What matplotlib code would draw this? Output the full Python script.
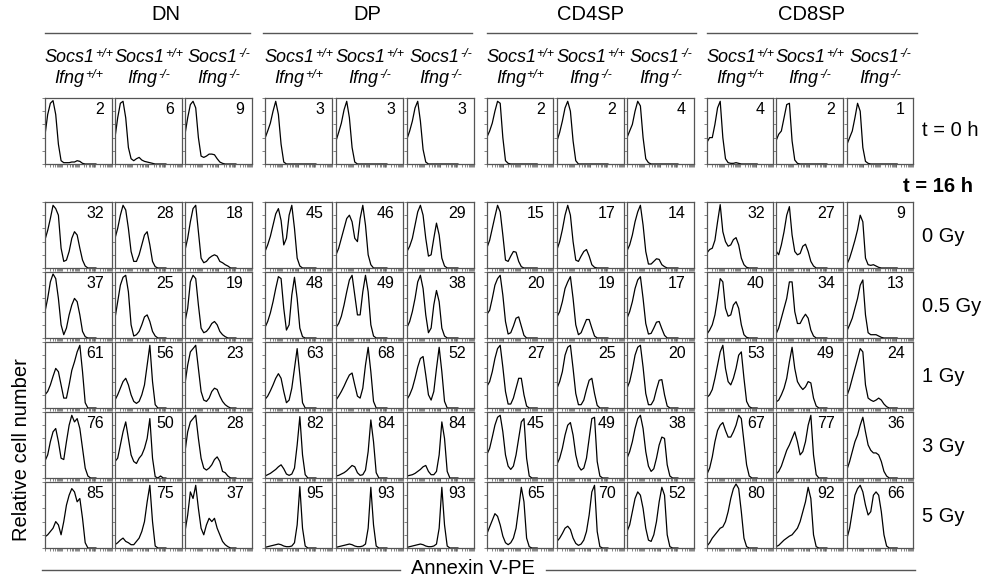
import numpy as np
import matplotlib
matplotlib.use('Agg')
import matplotlib.pyplot as plt
from matplotlib.lines import Line2D

plt.rcParams['font.family'] = ['Liberation Sans', 'DejaVu Sans']

# ---------------- data ----------------
groups = ['DN', 'DP', 'CD4SP', 'CD8SP']
socs_geno = ['+/+', '+/+', '-/-']
ifng_geno = ['+/+', '-/-', '-/-']
conditions = ['t = 0 h', '0 Gy', '0.5 Gy', '1 Gy', '3 Gy', '5 Gy']
channels = np.arange(20) * 0.04          # Annexin V-PE channel (fraction of axis)

pct_DN = [[2, 6, 9], [32, 28, 18], [37, 25, 19], [61, 56, 23], [76, 50, 28], [85, 75, 37]]
pct_DP = [[3, 3, 3], [45, 46, 29], [48, 49, 38], [63, 68, 52], [82, 84, 84], [95, 93, 93]]
pct_CD4 = [[2, 2, 4], [15, 17, 14], [20, 19, 17], [27, 25, 20], [45, 49, 38], [65, 70, 52]]
pct_CD8 = [[4, 2, 1], [32, 27, 9], [40, 34, 13], [53, 49, 24], [67, 77, 36], [80, 92, 66]]

hist_DN = [
    [[44,75,92,96,75,30,5,2,2,2,3,3,5,4,1,0,0,0,0,0],
     [40,70,92,95,70,25,8,5,8,10,6,4,3,2,1,0,0,0,0,0],
     [45,70,90,95,85,40,12,10,12,15,15,14,8,3,1,0,0,0,0,0]],
    [[43,57,75,95,90,80,30,10,12,25,45,55,50,30,12,3,0,0,0,0],
     [45,60,80,95,88,60,25,10,10,20,35,50,55,35,10,2,0,0,0,0],
     [27,45,70,90,95,55,15,8,10,15,18,20,18,10,8,5,3,0,0,0]],
    [[40,60,85,97,90,60,20,5,15,35,50,60,55,35,10,2,0,0,0,0],
     [30,55,80,92,95,70,20,3,5,10,20,32,35,25,10,3,0,0,0,0],
     [25,45,85,95,90,50,15,8,10,15,22,25,20,10,5,2,0,0,0,0]],
    [[20,25,35,48,60,55,35,15,15,35,57,70,85,95,55,8,0,0,0,0],
     [12,20,30,40,45,35,20,10,7,10,20,35,65,95,40,5,0,0,0,0],
     [37,65,85,90,95,60,25,12,10,15,25,30,28,18,10,5,2,0,0,0]],
    [[26,35,55,70,75,55,30,28,55,80,95,85,90,75,45,15,3,0,0,0],
     [25,30,50,70,85,60,35,25,22,30,35,45,60,90,30,2,0,3,0,0],
     [40,70,85,90,95,60,30,15,12,15,20,28,32,25,10,8,3,0,0,0]],
    [[17,20,25,30,40,35,20,40,65,80,90,85,70,75,45,8,0,0,0,0],
     [5,8,12,15,10,8,5,5,10,15,25,40,70,95,40,3,0,0,0,0],
     [25,50,85,75,95,60,30,20,35,45,40,45,30,20,10,5,2,0,0,0]],
]
hist_DP = [
    [[39,50,62,80,95,75,30,3,0,0,0,0,0,0,0,0,0,0,0,0],
     [35,48,62,82,95,70,25,3,0,0,0,0,0,0,0,0,0,0,0,0],
     [38,50,65,85,95,65,22,3,0,0,0,0,0,0,0,0,0,0,0,0]],
    [[25,35,48,65,82,90,72,35,45,80,95,60,15,3,0,0,0,0,0,0],
     [20,30,45,60,75,80,70,45,40,75,95,65,20,5,0,0,0,0,0,0],
     [25,33,45,65,85,95,80,45,18,20,45,68,50,15,3,0,0,0,0,0]],
    [[16,25,38,55,75,93,90,45,12,20,65,92,60,15,2,0,0,0,0,0],
     [16,22,33,50,70,88,95,65,35,35,70,95,70,20,3,0,0,0,0,0],
     [16,25,40,60,85,95,75,35,8,15,50,72,55,15,3,0,0,0,0,0]],
    [[13,18,26,35,45,52,45,25,8,12,30,60,90,50,8,0,0,0,0,0],
     [12,18,25,33,42,50,53,35,18,15,30,65,92,55,10,0,0,0,0,0],
     [13,20,30,45,62,75,78,50,20,12,25,60,92,55,10,0,0,0,0,0]],
    [[3,5,7,10,13,17,20,14,6,4,6,15,50,93,35,5,0,0,0,0],
     [3,4,6,8,11,15,19,17,8,4,5,12,40,88,55,8,0,0,0,0],
     [3,4,5,7,10,13,17,19,10,5,5,10,35,85,60,10,0,0,0,0]],
    [[1,2,3,4,5,6,5,3,2,2,3,8,35,93,30,3,0,0,0,0],
     [1,2,3,4,5,6,5,3,2,2,3,6,30,92,35,3,0,0,0,0],
     [1,2,3,4,5,6,5,3,2,2,3,6,30,92,35,3,0,0,0,0]],
]
hist_CD4 = [
    [[41,50,62,80,95,92,40,5,1,0,0,0,0,0,0,0,0,0,0,0],
     [35,48,65,85,95,80,35,5,0,0,0,0,0,0,0,0,0,0,0,0],
     [40,50,60,80,95,88,40,8,2,0,0,0,0,0,0,0,0,0,0,0]],
    [[31,42,60,78,95,85,50,12,10,18,25,24,10,2,0,0,0,0,0,0],
     [28,40,58,80,95,80,40,12,10,18,25,28,18,5,1,0,0,0,0,0],
     [26,35,50,70,85,95,65,25,6,6,10,14,13,5,2,0,0,0,0,0]],
    [[36,42,60,80,90,95,65,25,6,8,18,30,32,18,4,0,0,0,0,0],
     [32,40,55,75,85,93,60,20,5,8,18,28,28,15,3,0,0,0,0,0],
     [30,40,55,75,88,93,60,22,6,7,15,24,25,14,4,0,0,0,0,0]],
    [[33,40,55,75,90,95,62,25,6,6,15,30,45,45,20,3,0,0,0,0],
     [30,40,55,80,92,95,60,22,5,5,12,28,42,45,22,4,0,0,0,0],
     [30,40,58,80,92,95,62,22,5,5,12,28,42,43,20,3,0,0,0,0]],
    [[36,45,62,80,92,95,70,35,18,13,18,35,60,85,90,30,3,0,0,0],
     [21,30,45,65,80,84,65,35,18,12,15,30,60,90,92,25,3,0,0,0],
     [30,40,55,75,90,95,75,40,18,10,14,30,50,62,60,20,3,0,0,0]],
    [[22,32,42,52,48,35,18,8,5,8,15,30,60,92,70,15,2,0,0,0],
     [10,15,22,30,33,28,15,7,4,6,12,25,50,85,95,25,2,0,0,0],
     [25,35,55,75,85,80,60,30,12,10,20,40,70,92,80,20,2,0,0,0]],
]
hist_CD8 = [
    [[33,40,40,60,85,95,40,8,2,1,1,2,1,0,0,0,0,0,0,0],
     [35,45,50,70,90,92,35,6,1,0,0,0,0,0,0,0,0,0,0,0],
     [30,40,50,70,92,80,25,4,1,0,0,0,0,0,0,0,0,0,0,0]],
    [[23,28,30,42,70,96,55,40,33,35,43,46,35,15,5,1,0,0,0,0],
     [26,20,35,55,80,93,50,25,20,22,33,36,25,10,3,0,0,0,0,0],
     [6,15,28,42,58,80,70,15,5,4,5,3,1,0,0,0,0,0,0,0]],
    [[6,12,20,35,60,90,85,45,33,35,50,55,45,20,5,1,0,0,0,0],
     [6,15,30,45,60,85,85,40,22,22,30,36,30,12,3,0,0,0,0,0],
     [11,20,30,45,60,80,88,35,8,5,5,5,3,1,0,0,0,0,0,0]],
    [[16,20,28,45,65,85,95,60,40,35,45,60,80,85,45,10,2,0,0,0],
     [9,12,20,30,45,70,92,60,40,33,28,32,40,38,15,3,0,0,0,0],
     [19,30,45,60,75,90,85,35,15,12,10,12,15,12,6,2,0,0,0,0]],
    [[6,15,32,55,72,80,84,72,62,62,70,80,95,90,55,20,3,0,0,0],
     [6,10,18,30,42,50,60,70,55,35,40,55,80,95,35,5,0,0,0,0],
     [13,25,40,55,65,80,92,70,50,42,38,38,35,25,10,3,0,0,0,0]],
    [[3,8,15,20,25,30,32,40,55,75,90,97,90,55,15,2,0,0,0,0],
     [2,4,8,12,15,18,20,25,30,40,55,70,92,75,20,2,0,0,0,0],
     [15,30,55,80,90,95,85,65,50,55,80,85,80,55,20,3,0,0,0,0]],
]

pct_all = [pct_DN, pct_DP, pct_CD4, pct_CD8]
hist_all = [hist_DN, hist_DP, hist_CD4, hist_CD8]

# ---------------- layout (pixels) ----------------
W, H = 987, 581
col_lr = [[(45, 112), (115, 182), (185, 252)],
          [(265, 332), (336, 403), (407, 474)],
          [(487, 553), (557, 624), (627, 694)],
          [(707, 773), (776, 843), (847, 913)]]
row_tb = [(98, 164), (202, 268), (272, 338), (342, 408), (412, 478), (482, 548)]
group_line = [(45, 250), (263, 472), (487, 696), (707, 917)]
group_text_x = [166, 367, 591, 812]

fig = plt.figure(figsize=(W / 100, H / 100), dpi=100)
renderer = fig.canvas.get_renderer()


def fx(x):
    return x / W


def fy(y):
    return 1 - y / H


frame_col = '#555555'
xt = np.concatenate([np.log10(np.arange(1, 10) * 10 ** k) / 4 for k in range(4)] + [[1.0]])


def sup_label(cx, base_y, main, sup, size=13, sup_size=9, raise_px=5):
    t1 = fig.text(0, 0, main, fontsize=size, style='italic', va='baseline', ha='left')
    t2 = fig.text(0, 0, sup, fontsize=sup_size, style='italic', va='baseline', ha='left')
    w1 = t1.get_window_extent(renderer).width
    w2 = t2.get_window_extent(renderer).width
    x0 = cx - (w1 + w2) / 2
    t1.set_position((fx(x0), fy(base_y)))
    t2.set_position((fx(x0 + w1 + 0.5), fy(base_y - raise_px)))


for g in range(4):
    for c in range(3):
        l, r = col_lr[g][c]
        for ri in range(6):
            t, b = row_tb[ri]
            ax = fig.add_axes([fx(l), fy(b), (r - l) / W, (b - t) / H])
            ax.plot(channels, hist_all[g][ri][c], color='black', lw=0.9)
            ax.set_xlim(0, 1)
            ax.set_ylim(0, 100)
            for s in ax.spines.values():
                s.set_color(frame_col)
                s.set_linewidth(0.9)
            ax.set_xticks(xt)
            ax.set_yticks(np.linspace(0, 100, 6))
            ax.tick_params(direction='out', length=2, width=0.5, colors=frame_col,
                           labelbottom=False, labelleft=False)
            fig.text(fx(r - 8), fy(t + 4), str(pct_all[g][ri][c]),
                     fontsize=11.5, ha='right', va='top')

        cx = (l + r) / 2
        sup_label(cx, 62, 'Socs1', socs_geno[c])
        sup_label(cx, 83, 'Ifng', ifng_geno[c])

    fig.text(fx(group_text_x[g]), fy(15), groups[g], fontsize=14.5,
             ha='center', va='center')
    x0, x1 = group_line[g]
    fig.add_artist(Line2D([fx(x0), fx(x1)], [fy(33), fy(33)], color=frame_col, lw=1))

# right side labels
fig.text(fx(922), fy(131), conditions[0], fontsize=14.5, ha='left', va='center')
fig.text(fx(903), fy(186), 't = 16 h', fontsize=14.5, fontweight='bold',
         ha='left', va='center')
for ri in range(1, 6):
    t, b = row_tb[ri]
    fig.text(fx(922), fy((t + b) / 2 + 2), conditions[ri], fontsize=14.5,
             ha='left', va='center')

# axis titles
fig.text(fx(22), fy(450), 'Relative cell number', fontsize=14.5, rotation=90,
         ha='center', va='center')
fig.text(fx(473), fy(569), 'Annexin V-PE', fontsize=14.5, ha='center', va='center')
fig.add_artist(Line2D([fx(42), fx(400)], [fy(570), fy(570)], color=frame_col, lw=1))
fig.add_artist(Line2D([fx(546), fx(915)], [fy(570), fy(570)], color=frame_col, lw=1))

fig.savefig('out.png', dpi=100, facecolor='white')
